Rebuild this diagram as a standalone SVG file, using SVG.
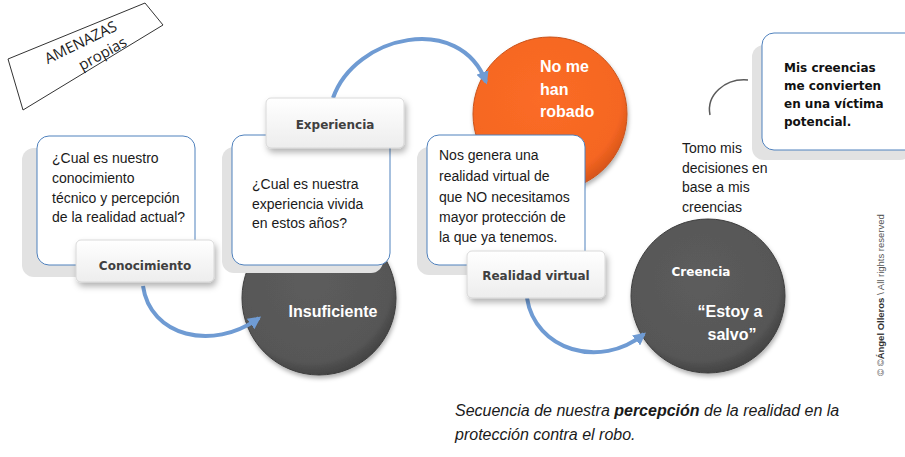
<svg xmlns="http://www.w3.org/2000/svg" width="905" height="457" viewBox="0 0 905 457">
<style>
.q{font-family:"Liberation Sans",Arial,sans-serif;font-size:14px;fill:#1a1a1a}
.lbl{font-family:"DejaVu Sans",Verdana,sans-serif;font-size:12px;font-weight:bold;fill:#404040;text-anchor:middle}
.ct{font-family:"Liberation Sans",Arial,sans-serif;font-size:16px;font-weight:bold;fill:#ffffff}
.box{fill:#ffffff;stroke:#4f81bd;stroke-width:1}
.shd{fill:#e2e2e2}
.lb{fill:url(#lg);stroke:#d0d0d0;stroke-width:0.8;filter:url(#ds)}
.arr{fill:none;stroke:#6f9bd3;stroke-width:4;marker-end:url(#ah)}
.am{font-family:"Open Sans","Liberation Sans",sans-serif;font-size:15px;fill:#1a1a1a;text-anchor:middle}
.vb{font-family:"DejaVu Sans",Verdana,sans-serif;font-size:12px;font-weight:bold;fill:#111}
</style>
<defs>
<linearGradient id="lg" x1="0" y1="0" x2="0" y2="1">
<stop offset="0" stop-color="#ffffff"/><stop offset="1" stop-color="#ededed"/>
</linearGradient>
<radialGradient id="gg" cx="0.45" cy="0.4" r="0.6">
<stop offset="0" stop-color="#5c5c5c"/><stop offset="0.85" stop-color="#575757"/><stop offset="1" stop-color="#444444"/>
</radialGradient>
<radialGradient id="og" cx="0.45" cy="0.4" r="0.6">
<stop offset="0" stop-color="#fb6c26"/><stop offset="0.85" stop-color="#f56622"/><stop offset="1" stop-color="#d9561a"/>
</radialGradient>
<filter id="ds" x="-20%" y="-20%" width="150%" height="160%">
<feDropShadow dx="2" dy="4" stdDeviation="3" flood-color="#000" flood-opacity="0.3"/>
</filter>
<filter id="cs" x="-20%" y="-20%" width="140%" height="140%">
<feDropShadow dx="1" dy="3" stdDeviation="2" flood-color="#000" flood-opacity="0.3"/>
</filter>
<marker id="ah" viewBox="0 0 10 10" refX="8" refY="5" markerWidth="3.2" markerHeight="3.2" orient="auto" markerUnits="strokeWidth">
<path d="M0,0 L10,5 L0,10 z" fill="#6f9bd3"/>
</marker>
</defs>

<g id="amenazas">
<polygon points="8,59 145,3 163,25 23,110" fill="#ffffff" stroke="#333333" stroke-width="1"/>
<text class="am" transform="translate(83,47) rotate(-26)">AMENAZAS</text>
<text class="am" transform="translate(105,58) rotate(-29)">propias</text>
</g>

<g id="insuficiente">
<circle cx="319" cy="298" r="77" fill="url(#gg)" stroke="#3e3e3e" stroke-width="1" filter="url(#cs)"/>
<text class="ct" x="333" y="317" text-anchor="middle">Insuficiente</text>
</g>

<g id="nomehanrobado">
<circle cx="550" cy="114" r="77" fill="url(#og)" stroke="#c9531a" stroke-width="1" filter="url(#cs)"/>
<text class="ct" x="540" y="72">No me</text>
<text class="ct" x="540" y="95">han</text>
<text class="ct" x="540" y="117">robado</text>
</g>

<g id="creencia">
<circle cx="708" cy="296" r="77" fill="url(#gg)" stroke="#3e3e3e" stroke-width="1" filter="url(#cs)"/>
<text x="701" y="276" text-anchor="middle" font-family="'DejaVu Sans',Verdana,sans-serif" font-size="12" font-weight="bold" fill="#ffffff">Creencia</text>
<text class="ct" x="730" y="317" text-anchor="middle">“Estoy a</text>
<text class="ct" x="732" y="340" text-anchor="middle">salvo”</text>
</g>

<g id="connectors">
<path class="arr" d="M143,286 C150,336 212,352 259,318"/>
<path class="arr" d="M333,98 C355,35 460,12 486,82"/>
<path class="arr" d="M527,298 C535,350 600,370 644,334"/>
<path d="M710,115 C706,95 725,78 748,80" fill="none" stroke="#5a5a5a" stroke-width="1.5"/>
</g>

<g id="box-conocimiento">
<rect class="shd" x="22" y="148" width="158" height="129" rx="12"/>
<rect class="box" x="37" y="136" width="158" height="129" rx="12"/>
<text class="q" x="52" y="163">¿Cual es nuestro</text>
<text class="q" x="52" y="183">conocimiento</text>
<text class="q" x="52" y="203">técnico y percepción</text>
<text class="q" x="52" y="222">de la realidad actual?</text>
</g>

<g id="label-conocimiento">
<rect class="lb" x="76" y="240" width="138" height="42" rx="5"/>
<text class="lbl" x="145" y="270">Conocimiento</text>
</g>

<g id="box-experiencia">
<rect class="shd" x="222" y="147" width="161" height="126" rx="12"/>
<rect class="box" x="232" y="135" width="158" height="130" rx="12"/>
<text class="q" x="252" y="189">¿Cual es nuestra</text>
<text class="q" x="252" y="209">experiencia vivida</text>
<text class="q" x="252" y="228">en estos años?</text>
</g>

<g id="label-experiencia">
<rect class="lb" x="266" y="98" width="138" height="50" rx="5"/>
<text class="lbl" x="335" y="129">Experiencia</text>
</g>

<g id="box-realidad">
<rect class="shd" x="417" y="147" width="158" height="128" rx="12"/>
<rect class="box" x="427" y="135" width="158" height="130" rx="12"/>
<text class="q" x="439" y="160">Nos genera una</text>
<text class="q" x="439" y="181">realidad virtual de</text>
<text class="q" x="439" y="202">que NO necesitamos</text>
<text class="q" x="439" y="222">mayor protección de</text>
<text class="q" x="439" y="242">la que ya tenemos.</text>
</g>

<g id="label-realidad">
<rect class="lb" x="467" y="251" width="138" height="47" rx="5"/>
<text class="lbl" x="536" y="280">Realidad virtual</text>
</g>

<g id="box-victima">
<rect class="shd" x="752" y="45" width="160" height="115" rx="12"/>
<rect class="box" x="762" y="33" width="160" height="117" rx="12"/>
<text class="vb" x="784" y="72">Mis creencias</text>
<text class="vb" x="784" y="90">me convierten</text>
<text class="vb" x="784" y="108">en una víctima</text>
<text class="vb" x="784" y="126">potencial.</text>
</g>

<g id="tomo">
<text class="q" x="682" y="153">Tomo mis</text>
<text class="q" x="682" y="173">decisiones en</text>
<text class="q" x="682" y="192">base a mis</text>
<text class="q" x="682" y="212">creencias</text>
</g>

<g id="copyright">
<text transform="translate(884,376) rotate(-90)" font-family="'Liberation Sans',Arial,sans-serif" font-size="9.5" fill="#555">© ©<tspan font-weight="bold" fill="#333">Ángel Olleros</tspan> \ All rights reserved</text>
</g>

<g id="caption">
<text x="455" y="416" font-family="'Liberation Sans',Arial,sans-serif" font-size="16" font-style="italic" fill="#1a1a1a">Secuencia de nuestra <tspan font-weight="bold">percepción</tspan> de la realidad en la</text>
<text x="455" y="440" font-family="'Liberation Sans',Arial,sans-serif" font-size="16" font-style="italic" fill="#1a1a1a">protección contra el robo.</text>
</g>
</svg>
